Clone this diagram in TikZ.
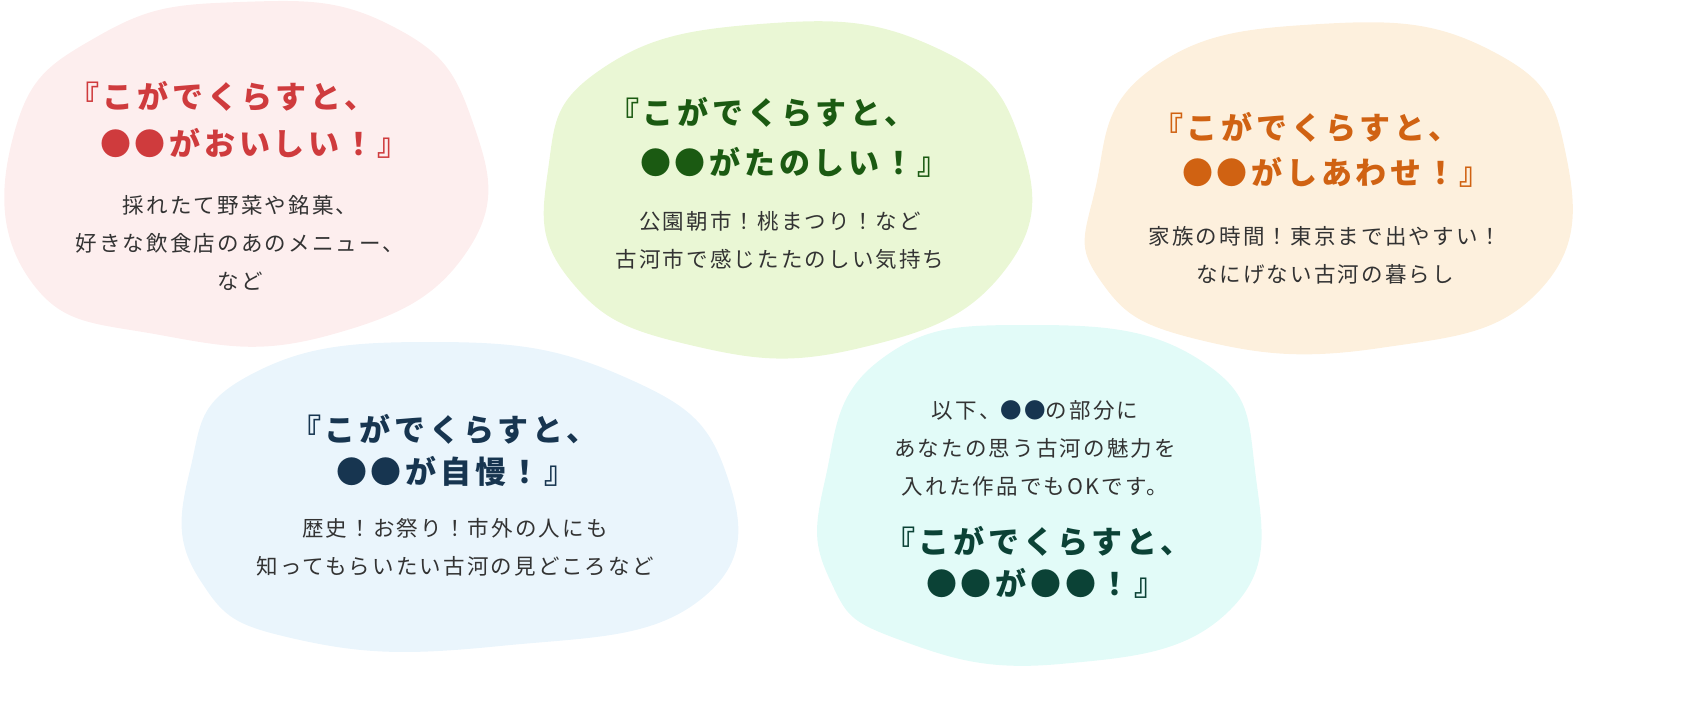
\documentclass[tikz,border=0pt]{standalone}
\usepackage{fontspec}
\setmainfont{Noto Sans CJK JP}
\definecolor{f1}{HTML}{FDEEEE}\definecolor{t1}{HTML}{CF3B3D}
\definecolor{f2}{HTML}{EAF7D5}\definecolor{t2}{HTML}{1B5A12}
\definecolor{f3}{HTML}{FDF0DD}\definecolor{t3}{HTML}{D06212}
\definecolor{f4}{HTML}{EAF5FC}\definecolor{t4}{HTML}{173550}
\definecolor{f5}{HTML}{E2FBF8}\definecolor{t5}{HTML}{0B4236}
\definecolor{bt}{HTML}{333333}
\tikzset{title/.style={font=\fontsize{31}{36}\selectfont\bfseries\addfontfeature{LetterSpace=12},anchor=west,inner sep=0pt},
body/.style={font=\fontsize{21.5}{38}\selectfont\addfontfeature{LetterSpace=10},text=bt,align=center,inner sep=0pt}}
\begin{document}
\begin{tikzpicture}[x=1pt,y=-1pt]
\useasboundingbox (0,0) rectangle (1699,718);
\fill[f1] plot[smooth cycle,tension=0.8] coordinates {(15,130)(100,35)(240,2)(390,25)(472,120)(468,250)(330,335)(160,335)(30,280)};
\fill[f2] plot[smooth cycle,tension=0.8] coordinates {(548,170)(600,70)(760,24)(930,45)(1020,140)(1005,270)(860,348)(690,345)(570,280)};
\fill[f3] plot[smooth cycle,tension=0.8] coordinates {(1095,190)(1150,70)(1320,24)(1490,50)(1565,150)(1540,290)(1380,348)(1200,340)(1100,280)};
\fill[f4] plot[smooth cycle,tension=0.8] coordinates {(190,470)(250,375)(430,342)(620,375)(725,470)(700,600)(500,646)(300,640)(200,580)};
\fill[f5] plot[smooth cycle,tension=0.8] coordinates {(825,480)(880,360)(1030,325)(1200,360)(1255,470)(1230,610)(1060,664)(900,640)(830,580)};
\node[title,text=t1] (a1) at (68,96) {『こがでくらすと、};
\node[title,text=t1] (a2) at (100,143) {●●がおいしい！』};
\node[body] (b1) at (240,243) {採れたて野菜や銘菓、\\好きな飲食店のあのメニュー、\\など};
\node[title,text=t2] (c1) at (608,112) {『こがでくらすと、};
\node[title,text=t2] (c2) at (640,162) {●●がたのしい！』};
\node[body] (d1) at (780,240) {公園朝市！桃まつり！など\\古河市で感じたたのしい気持ち};
\node[title,text=t3] (e1) at (1152,127) {『こがでくらすと、};
\node[title,text=t3] (e2) at (1182,172) {●●がしあわせ！』};
\node[body] (g1) at (1325,255) {家族の時間！東京まで出やすい！\\なにげない古河の暮らし};
\node[title,text=t4] (h1) at (290,429) {『こがでくらすと、};
\node[title,text=t4] (h2) at (336,471) {●●が自慢！』};
\node[body] (i1) at (455,547) {歴史！お祭り！市外の人にも\\知ってもらいたい古河の見どころなど};
\node[body] (j1) at (1035,448) {以下、{\color{t4}●●}の部分に\\あなたの思う古河の魅力を\\入れた作品でもOKです。};
\node[title,text=t5] (k1) at (884,541) {『こがでくらすと、};
\node[title,text=t5] (k2) at (926,583) {●●が●●！』};
\end{tikzpicture}
\end{document}
